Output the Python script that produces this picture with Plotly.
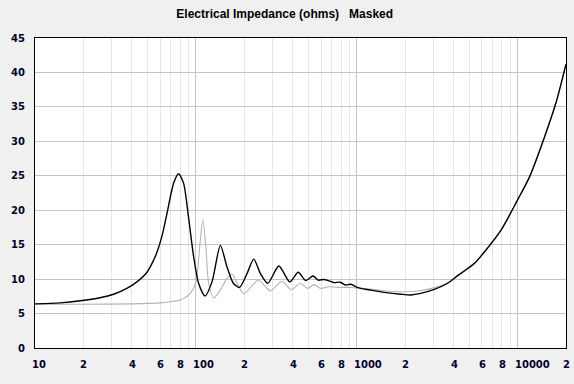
import numpy as np
import plotly.graph_objects as go

# ---- data ----
freq_black = [10, 14.3, 19.1, 25.4, 30.8, 37.2, 43, 49.7, 54, 57.3, 61.5, 66.1, 72.7, 78, 83.9, 89.9,
              96.8, 104, 114, 126, 142, 156, 171, 187, 208, 229, 252, 280, 328, 384, 433,
              481, 535, 577, 625, 672, 720, 790, 850, 920, 1000, 1060, 1220, 1480, 1880,
              2170, 2500, 3035, 3675, 4240, 5400, 6400, 7890, 10000, 11845, 14690, 17380, 20000]
z_black = [6.4, 6.55, 6.85, 7.3, 7.8, 8.65, 9.6, 11.0, 12.5, 13.9, 16.2, 19.5, 23.9, 25.3, 23.9, 19.1,
           13.3, 9.4, 7.55, 9.6, 14.9, 11.8, 9.4, 8.8, 10.8, 12.9, 10.8, 9.4, 11.9, 9.6, 11.0,
           9.8, 10.45, 9.85, 9.95, 9.75, 9.5, 9.55, 9.15, 9.25, 8.85, 8.65, 8.4, 8.08, 7.8,
           7.7, 7.93, 8.5, 9.4, 10.5, 12.3, 14.3, 17.1, 21.5, 24.8, 30.6, 35.7, 41.2]

freq_gray = [10, 20, 40, 60, 69.3, 80, 84, 92, 100.3, 105, 110.5, 115.8, 120, 129, 142, 156,
             168, 185, 199, 221, 244, 271, 291, 344, 392, 446, 494, 542, 597, 672, 760,
             900, 1000, 1060, 1480, 1880, 2400, 3035, 3850, 4240, 5400, 6400, 7890, 10000,
             11845, 14690, 17380, 20000]
z_gray = [6.35, 6.35, 6.4, 6.55, 6.72, 6.95, 7.2, 7.9, 9.6, 14.0, 18.7, 14.2, 9.4, 7.25, 8.4, 10.1,
          10.7, 8.9, 7.85, 8.9, 9.87, 8.9, 8.3, 9.7, 8.45, 9.4, 8.66, 9.2, 8.66, 8.9, 8.8,
          8.8, 8.7, 8.7, 8.3, 8.17, 8.27, 8.76, 9.7, 10.5, 12.3, 14.3, 17.1, 21.5,
          24.8, 30.6, 35.7, 41.2]

x_label_vals = [10, 20, 40, 60, 80, 100, 200, 400, 600, 800, 1000, 2000, 4000, 6000, 8000, 10000, 20000]
x_label_text = ["10", "2", "4", "6", "8", "100", "2", "4", "6", "8", "1000", "2", "4", "6", "8", "10000", "2"]
decades = [10, 100, 1000, 10000]
minor_vals = [m * d for d in decades for m in range(2, 10) if m * d <= 20000]
y_tick_vals = list(range(0, 46, 5))

title_text = "Electrical Impedance (ohms)\u00a0\u00a0\u00a0Masked"

# ---- figure ----
fig = go.Figure()
fig.add_trace(go.Scatter(x=freq_gray, y=z_gray, mode="lines",
                         line=dict(color="#b4b4b4", width=1.1, shape="spline", smoothing=0.7),
                         hoverinfo="skip", showlegend=False))
fig.add_trace(go.Scatter(x=freq_black, y=z_black, mode="lines",
                         line=dict(color="#000000", width=1.4, shape="spline", smoothing=0.7),
                         hoverinfo="skip", showlegend=False))

tick_font = dict(family="DejaVu Sans", size=10, color="#00002a", weight="bold")

annotations = []
for v, t in zip(x_label_vals, x_label_text):
    annotations.append(dict(x=np.log10(v), y=0, xref="x", yref="paper",
                            text=t, showarrow=False, xanchor="left", yanchor="top",
                            xshift=-4, yshift=-10, borderpad=0, font=tick_font))

fig.update_layout(
    width=574, height=384,
    margin=dict(l=35, r=8, t=38, b=36),
    paper_bgcolor="#f0f0f0", plot_bgcolor="#ffffff",
    title=dict(text=title_text, x=0.496, xref="container", xanchor="center",
               y=1 - 13.5 / 384, yref="container", yanchor="middle",
               font=dict(family="Liberation Sans", size=12, color="#000000", weight="bold")),
    annotations=annotations,
    showlegend=False,
    hovermode=False,
)
fig.update_xaxes(type="log", range=[1, np.log10(20000)],
                 tickvals=decades, showticklabels=False, ticks="",
                 showgrid=True, gridcolor="#c4c4c4", gridwidth=1,
                 minor=dict(tickvals=minor_vals, showgrid=True, gridcolor="#e6e6e6", gridwidth=1, ticks=""),
                 showline=True, linecolor="#000000", linewidth=1, mirror=True, zeroline=False)
fig.update_yaxes(range=[0, 45], tickvals=y_tick_vals, ticks="",
                 showgrid=True, gridcolor="#c4c4c4", gridwidth=1,
                 tickfont=tick_font, ticklabelstandoff=7,
                 showline=True, linecolor="#000000", linewidth=1, mirror=True, zeroline=False)

fig.write_html("out.html", config={"displayModeBar": False, "staticPlot": True},
               post_script="document.body.style.margin='0';document.body.style.overflow='hidden';")
